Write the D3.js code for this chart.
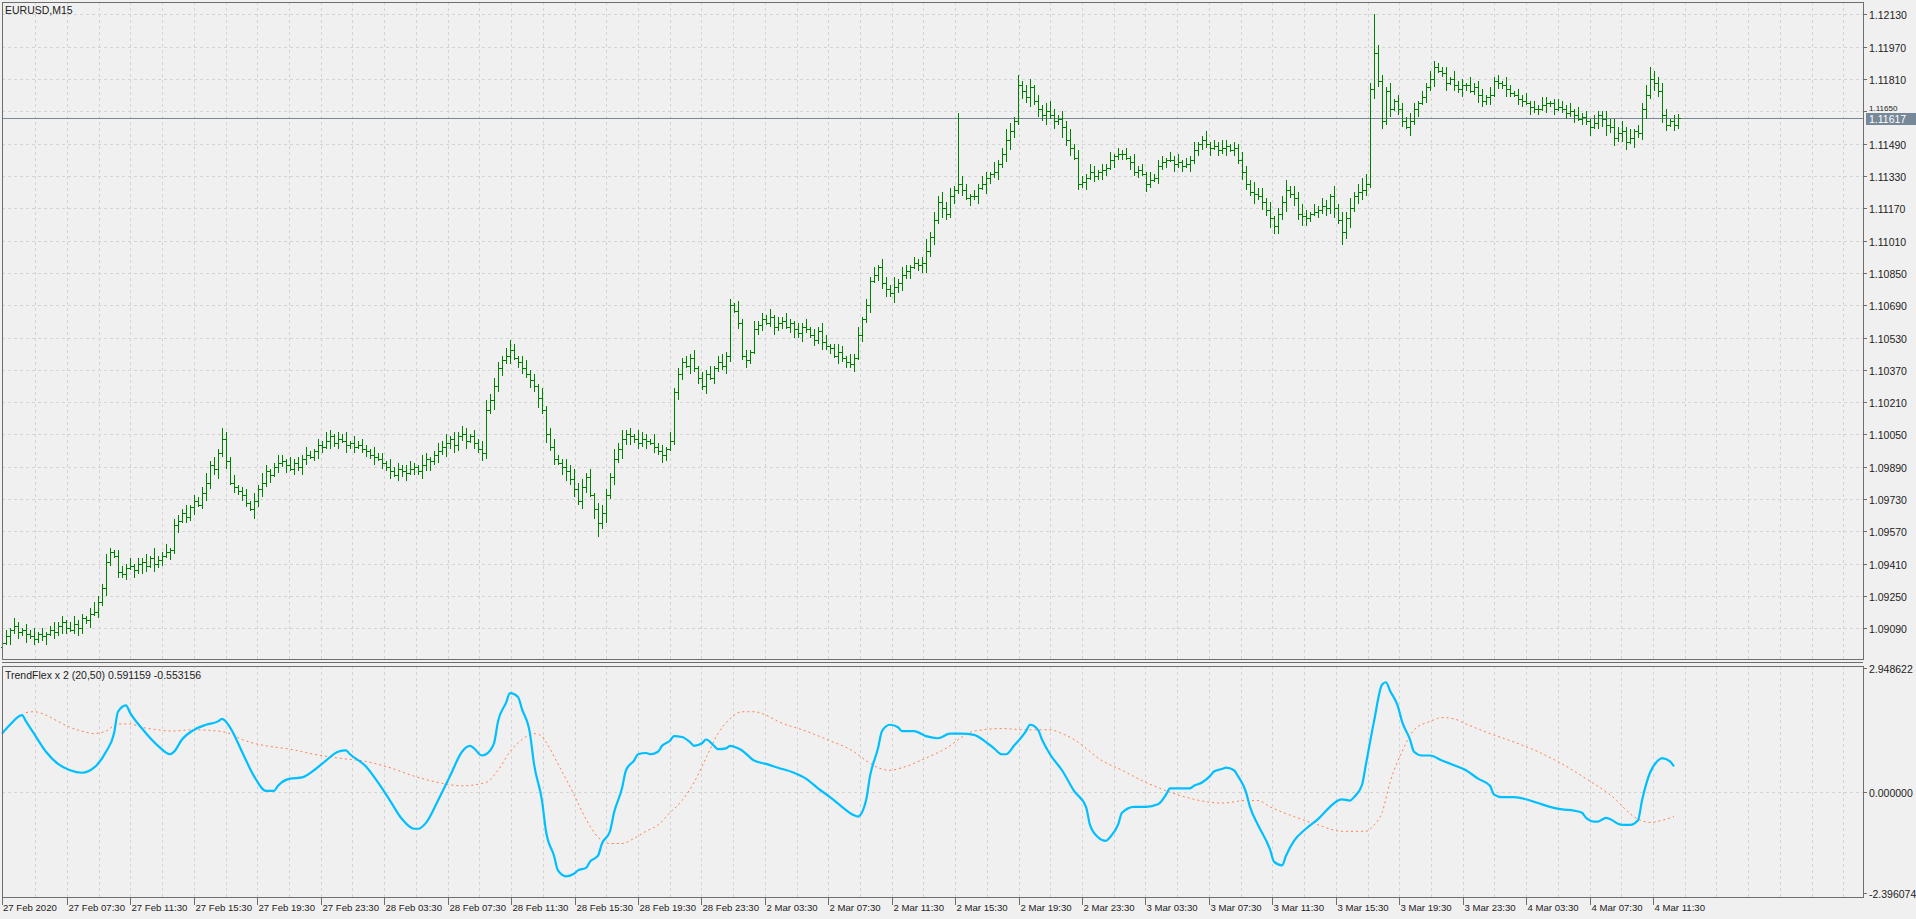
<!DOCTYPE html>
<html><head><meta charset="utf-8">
<script src="https://cdn.jsdelivr.net/npm/d3@7"></script>
<style>html,body{margin:0;padding:0;background:#f0f0f0;overflow:hidden}svg{display:block}</style>
</head><body><svg id="c" width="1916" height="919"></svg>
<script>
const symbolTitle = "EURUSD,M15";
const indTitle = "TrendFlex x 2 (20,50) 0.591159 -0.553156";
const priceTicks = [1.12130,1.11970,1.11810,1.11650,1.11490,1.11330,1.11170,1.11010,1.10850,1.10690,1.10530,1.10370,1.10210,1.10050,1.09890,1.09730,1.09570,1.09410,1.09250,1.09090];
const indTicks = [2.948622, 0.000000, -2.396074];
const lastPrice = 1.11617;
const firstLabel = "27 Feb 2020";
const timeLabels = ["27 Feb 07:30","27 Feb 11:30","27 Feb 15:30","27 Feb 19:30","27 Feb 23:30","28 Feb 03:30","28 Feb 07:30","28 Feb 11:30","28 Feb 15:30","28 Feb 19:30","28 Feb 23:30","2 Mar 03:30","2 Mar 07:30","2 Mar 11:30","2 Mar 15:30","2 Mar 19:30","2 Mar 23:30","3 Mar 03:30","3 Mar 07:30","3 Mar 11:30","3 Mar 15:30","3 Mar 19:30","3 Mar 23:30","4 Mar 03:30","4 Mar 07:30","4 Mar 11:30"];
const firstOpen = 1.0900;
const closes = [
1.0902,1.0905,1.0908,1.0910,1.0907,1.0908,1.0906,1.0905,1.0904,1.0906,
1.0905,1.0906,1.0908,1.0907,1.0910,1.0912,1.0909,1.0908,1.0911,1.0909,
1.0914,1.0913,1.0916,1.0917,1.0922,1.0929,1.0942,1.0947,1.0945,1.0937,
1.0936,1.0939,1.0940,1.0938,1.0941,1.0942,1.0940,1.0944,1.0941,1.0943,
1.0945,1.0947,1.0948,1.0960,1.0962,1.0966,1.0964,1.0969,1.0972,1.0970,
1.0976,1.0981,1.0990,1.0988,1.0996,1.1003,1.0992,1.0981,1.0979,1.0977,
1.0975,1.0971,1.0968,1.0972,1.0978,1.0981,1.0987,1.0985,1.0989,1.0991,
1.0992,1.0990,1.0988,1.0991,1.0989,1.0993,1.0995,1.0994,1.0997,1.1000,
1.0999,1.1002,1.1004,1.1001,1.1003,1.1002,1.1000,1.1001,1.0999,1.1000,
1.0998,1.0997,1.0995,1.0994,1.0993,1.0991,1.0989,1.0987,1.0985,1.0988,
1.0987,1.0986,1.0988,1.0989,1.0987,1.0990,1.0993,1.0992,1.0995,1.0997,
1.0999,1.1001,1.1003,1.1000,1.1004,1.1005,1.1002,1.1004,1.1001,1.0998,
1.0996,1.1017,1.1022,1.1029,1.1038,1.1042,1.1044,1.1047,1.1043,1.1041,
1.1038,1.1035,1.1032,1.1029,1.1023,1.1017,1.1005,1.0999,1.0993,1.0991,
1.0989,1.0987,1.0983,1.0978,1.0972,1.0979,1.0984,1.0975,1.0968,1.0961,
1.0966,1.0975,1.0984,1.0993,1.0998,1.1003,1.1005,1.1004,1.1003,1.1001,
1.1003,1.1002,1.1001,1.0999,1.0997,1.0995,1.0998,1.1002,1.1026,1.1035,
1.1041,1.1039,1.1043,1.1038,1.1033,1.1029,1.1035,1.1033,1.1038,1.1041,
1.1039,1.1044,1.1069,1.1066,1.1060,1.1044,1.1042,1.1046,1.1057,1.1059,
1.1062,1.1060,1.1063,1.1058,1.1060,1.1061,1.1058,1.1060,1.1057,1.1055,
1.1058,1.1057,1.1054,1.1052,1.1056,1.1051,1.1049,1.1048,1.1044,1.1046,
1.1043,1.1041,1.1040,1.1043,1.1054,1.1062,1.1069,1.1081,1.1084,1.1088,
1.1080,1.1077,1.1075,1.1078,1.1080,1.1084,1.1086,1.1088,1.1090,1.1089,
1.1090,1.1096,1.1103,1.1111,1.1120,1.1117,1.1114,1.1123,1.1126,1.1129,
1.1126,1.1122,1.1123,1.1123,1.1127,1.1129,1.1132,1.1134,1.1135,1.1139,
1.1144,1.1151,1.1155,1.1160,1.1178,1.1175,1.1172,1.1177,1.1170,1.1166,
1.1163,1.1165,1.1163,1.1160,1.1161,1.1157,1.1151,1.1147,1.1142,1.1129,
1.1130,1.1132,1.1135,1.1133,1.1135,1.1136,1.1137,1.1141,1.1143,1.1144,
1.1144,1.1142,1.1140,1.1135,1.1136,1.1134,1.1129,1.1131,1.1132,1.1138,
1.1140,1.1141,1.1141,1.1139,1.1140,1.1138,1.1139,1.1141,1.1146,1.1149,
1.1151,1.1149,1.1147,1.1148,1.1146,1.1147,1.1148,1.1146,1.1147,1.1141,
1.1135,1.1129,1.1125,1.1124,1.1123,1.1120,1.1116,1.1112,1.1108,1.1114,
1.1120,1.1126,1.1124,1.1122,1.1114,1.1113,1.1112,1.1114,1.1115,1.1116,
1.1118,1.1117,1.1123,1.1117,1.1111,1.1105,1.1112,1.1117,1.1123,1.1125,
1.1126,1.1129,1.1176,1.1194,1.1180,1.1160,1.1175,1.1166,1.1170,1.1166,
1.1160,1.1157,1.1160,1.1166,1.1169,1.1172,1.1177,1.1181,1.1187,1.1185,
1.1184,1.1179,1.1181,1.1178,1.1176,1.1178,1.1178,1.1175,1.1177,1.1173,
1.1170,1.1172,1.1173,1.1180,1.1179,1.1178,1.1176,1.1174,1.1173,1.1171,
1.1170,1.1169,1.1167,1.1166,1.1166,1.1168,1.1169,1.1169,1.1166,1.1167,
1.1166,1.1164,1.1165,1.1163,1.1161,1.1162,1.1160,1.1157,1.1159,1.1163,
1.1161,1.1158,1.1157,1.1152,1.1154,1.1155,1.1150,1.1152,1.1155,1.1154,
1.1166,1.1173,1.1181,1.1179,1.1175,1.1163,1.1158,1.1160,1.1158,1.11617];
// upper / lower wick length in pips beyond the body
const wickUp = ["2314213241","3124231342","2135324213","3241324152","2413324132","3524213241","2314253124","3142324213","2431324132","3214231423",
"2342153124","3413243132","4534324231","3423152342","2435342413","4325342314","3214231423","2324132413","4231523142","3241324213",
"2413243124","3142413241","4325243132","3624353425","4313243152","3542423413","2453243524","3243132413","2314231423","3142413241",
"2413243132","4325342413","3524353142","4315243524","6535432413","3243132432","2314231423","3142314213","2413243124","3241423142",
"2434352413","3524343132"];
const wickDn = ["3142324132","2413243124","3241324213","2314253142","3142413241","2433524132","3215342413","2413243124","3142314231","2324132413",
"3413243524","2534324132","4325342413","3243524231","4534243152","3524253423","2413243124","3142324132","2431324213","3124231342",
"4213242314","2324132413","3425342413","4534253242","3142415324","2453243524","3524253413","2413243142","3142314213","2314231423",
"3241324132","4325243524","3524354213","2435243524","4325342413","3142413241","2413243124","3241324213","3142314231","2324132413",
"4534243152","3524343132"];
const highOverride = [[239,1.1164],[343,1.1213],[254,1.1183],[127,1.1052],[55,1.1008],[412,1.1187]];
const lowOverride = [[149,1.0954],[335,1.1099],[318,1.1104],[406,1.1146]];
// TrendFlex lines: [bar index, value]
const trendFlex = [[0,1.39],[2,1.60],[5,1.83],[6,1.68],[8,1.39],[11,0.96],[14,0.67],[17,0.52],[20,0.46],[23,0.58],[26,0.96],[28,1.39],[29,1.91],[31,2.06],[32,1.89],[35,1.51],[39,1.10],[42,0.90],[43,0.96],[45,1.25],[48,1.48],[51,1.60],[54,1.68],[55,1.74],[57,1.54],[60,0.96],[63,0.38],[66,0.03],[68,0.03],[69,0.15],[72,0.32],[75,0.35],[78,0.52],[81,0.75],[84,0.96],[86,0.99],[87,0.90],[91,0.61],[94,0.23],[97,-0.20],[100,-0.64],[103,-0.87],[104,-0.87],[106,-0.73],[109,-0.20],[112,0.38],[115,0.96],[117,1.10],[118,1.04],[120,0.87],[121,0.90],[123,1.16],[124,1.68],[126,2.12],[127,2.35],[129,2.26],[130,1.97],[132,1.39],[133,0.67],[135,-0.20],[136,-0.93],[138,-1.51],[139,-1.86],[141,-2.00],[143,-1.94],[144,-1.86],[146,-1.80],[147,-1.65],[149,-1.51],[150,-1.22],[152,-0.93],[153,-0.49],[155,0.09],[156,0.52],[158,0.75],[159,0.90],[161,0.93],[162,0.90],[164,0.96],[165,1.10],[167,1.22],[168,1.33],[170,1.31],[172,1.19],[173,1.10],[175,1.16],[176,1.25],[178,1.10],[179,1.02],[181,1.04],[182,1.10],[184,1.04],[185,0.99],[188,0.75],[191,0.67],[194,0.58],[198,0.46],[201,0.32],[204,0.09],[207,-0.12],[210,-0.35],[213,-0.55],[214,-0.58],[216,-0.20],[217,0.38],[219,1.04],[220,1.45],[222,1.60],[224,1.54],[225,1.45],[228,1.45],[231,1.33],[234,1.28],[237,1.39],[240,1.39],[243,1.36],[246,1.19],[248,1.04],[250,0.90],[251,0.90],[253,1.10],[256,1.45],[257,1.60],[259,1.48],[260,1.25],[262,0.90],[265,0.52],[268,0.03],[271,-0.35],[272,-0.78],[274,-1.07],[276,-1.16],[277,-1.07],[279,-0.78],[280,-0.49],[283,-0.35],[286,-0.35],[289,-0.29],[291,-0.06],[292,0.09],[295,0.09],[297,0.09],[298,0.15],[300,0.23],[302,0.38],[303,0.49],[305,0.55],[306,0.58],[308,0.52],[309,0.38],[311,0.00],[312,-0.35],[314,-0.78],[317,-1.36],[318,-1.65],[320,-1.74],[321,-1.51],[323,-1.16],[326,-0.87],[329,-0.64],[332,-0.35],[334,-0.20],[335,-0.17],[337,-0.20],[338,-0.12],[340,0.17],[341,0.67],[343,1.68],[345,2.55],[346,2.61],[347,2.41],[349,2.03],[350,1.68],[352,1.25],[353,0.96],[355,0.87],[357,0.87],[360,0.75],[363,0.64],[366,0.52],[369,0.32],[372,0.15],[373,-0.06],[375,-0.12],[378,-0.12],[381,-0.17],[384,-0.26],[387,-0.35],[390,-0.41],[393,-0.44],[395,-0.49],[396,-0.61],[398,-0.70],[399,-0.70],[401,-0.61],[402,-0.64],[404,-0.75],[405,-0.78],[407,-0.78],[409,-0.67],[410,-0.20],[412,0.46],[414,0.75],[415,0.81],[417,0.73],[418,0.61]];
const trendFlexSlow = [[6,1.89],[8,1.91],[11,1.83],[14,1.68],[17,1.54],[20,1.45],[23,1.39],[26,1.45],[29,1.62],[32,1.62],[35,1.54],[39,1.48],[42,1.45],[48,1.48],[54,1.45],[57,1.39],[60,1.25],[63,1.16],[66,1.10],[72,1.02],[78,0.90],[84,0.81],[91,0.73],[97,0.58],[103,0.38],[109,0.23],[115,0.15],[121,0.23],[124,0.52],[127,0.96],[130,1.25],[133,1.39],[135,1.33],[136,1.19],[139,0.67],[143,-0.06],[146,-0.64],[149,-1.07],[152,-1.22],[155,-1.22],[158,-1.10],[161,-0.93],[164,-0.78],[167,-0.49],[170,-0.20],[173,0.23],[176,0.81],[179,1.39],[182,1.74],[185,1.91],[188,1.91],[191,1.83],[194,1.68],[201,1.45],[207,1.22],[213,0.96],[216,0.75],[219,0.58],[222,0.52],[225,0.58],[231,0.81],[237,1.10],[240,1.31],[243,1.45],[250,1.51],[256,1.48],[262,1.48],[265,1.39],[268,1.25],[271,1.04],[274,0.81],[280,0.52],[286,0.23],[292,0.00],[298,-0.17],[305,-0.26],[311,-0.20],[314,-0.20],[317,-0.35],[323,-0.58],[329,-0.78],[335,-0.93],[341,-0.93],[343,-0.78],[345,-0.49],[347,0.23],[350,0.96],[353,1.48],[357,1.68],[360,1.77],[363,1.74],[366,1.62],[372,1.39],[378,1.19],[384,0.96],[390,0.67],[396,0.32],[402,-0.06],[409,-0.64],[412,-0.72],[415,-0.67],[418,-0.58]];

const svg = d3.select("#c");
const L = 2, R = 1863, mainTop = 2, mainBot = 659, indTop = 666, indBot = 897;
const font = "'Liberation Sans', Arial, sans-serif";
const x = d3.scaleLinear().domain([0,1]).range([2,6]);
const y = d3.scaleLinear().domain([1.0909,1.1213]).range([628.4,14.3]);
const yi = d3.scaleLinear().domain([-2.396074,2.948622]).range([893,668]);
const tx = d3.scaleLinear().domain([0,timeLabels.length-1]).range([67,1653]);

const up = wickUp.join("").split("").map(Number);
const dn = wickDn.join("").split("").map(Number);
const hiO = new Map(highOverride), loO = new Map(lowOverride);
const bars = closes.map((c,i)=>{
  const o = i===0 ? firstOpen : closes[i-1];
  const h = hiO.has(i) ? hiO.get(i) : Math.max(o,c)+up[i]*0.0001;
  const l = loO.has(i) ? loO.get(i) : Math.min(o,c)-dn[i]*0.0001;
  return {i,o,h,l,c};
});

// grids
const gridC = "#d4d4d4";
const vg = d3.range(-2, 120).map(k=>k/2).filter(k=>tx(k)>L+2 && tx(k)<R);
const gGrid = svg.append("g");
[[mainTop,mainBot],[indTop,indBot]].forEach(([t,b])=>{
  gGrid.selectAll(null).data(vg).enter().append("line")
    .attr("x1",k=>Math.round(tx(k))+0.5).attr("x2",k=>Math.round(tx(k))+0.5).attr("y1",t).attr("y2",b)
    .attr("stroke",gridC).attr("stroke-dasharray","3,3");
});
gGrid.selectAll(null).data(priceTicks).enter().append("line")
  .attr("x1",L).attr("x2",R).attr("y1",d=>Math.round(y(d))+0.5).attr("y2",d=>Math.round(y(d))+0.5)
  .attr("stroke",gridC).attr("stroke-dasharray","3,3");
gGrid.append("line").attr("x1",L).attr("x2",R).attr("y1",Math.round(yi(0))+0.5).attr("y2",Math.round(yi(0))+0.5)
  .attr("stroke",gridC).attr("stroke-dasharray","3,3");

// price line
svg.append("line").attr("x1",L).attr("x2",R).attr("y1",Math.round(y(lastPrice))+0.5).attr("y2",Math.round(y(lastPrice))+0.5)
  .attr("stroke","#778899").attr("stroke-width",1.2);

// bars
const gB = svg.append("g").attr("stroke","#008000").attr("stroke-width",1.2).attr("shape-rendering","crispEdges");
bars.forEach(b=>{
  const xx = Math.round(x(b.i))+0.5;
  gB.append("line").attr("x1",xx).attr("x2",xx).attr("y1",y(b.h)).attr("y2",y(b.l));
  gB.append("line").attr("x1",xx-2).attr("x2",xx).attr("y1",Math.round(y(b.o))+0.5).attr("y2",Math.round(y(b.o))+0.5);
  gB.append("line").attr("x1",xx).attr("x2",xx+2).attr("y1",Math.round(y(b.c))+0.5).attr("y2",Math.round(y(b.c))+0.5);
});

// indicator lines
const line = d3.line().x(d=>x(d[0])).y(d=>yi(d[1])).curve(d3.curveMonotoneX);
svg.append("path").attr("d",line(trendFlexSlow)).attr("fill","none").attr("stroke","#ff7f50").attr("stroke-width",1).attr("stroke-dasharray","2,3");
svg.append("path").attr("d",line(trendFlex)).attr("fill","none").attr("stroke","#00bfff").attr("stroke-width",2.2);

// frames
svg.append("rect").attr("x",L+0.5).attr("y",mainTop+0.5).attr("width",R-L).attr("height",mainBot-mainTop).attr("fill","none").attr("stroke","#6e6e6e");
svg.append("rect").attr("x",L+0.5).attr("y",indTop+0.5).attr("width",R-L).attr("height",indBot-indTop).attr("fill","none").attr("stroke","#6e6e6e");
svg.append("line").attr("x1",L).attr("x2",R).attr("y1",mainBot+3.5).attr("y2",mainBot+3.5).attr("stroke","#6e6e6e");

// right axes
const tc = "#222";
const ga = svg.append("g").attr("font-family",font).attr("font-size","10.5px").attr("fill",tc);
priceTicks.forEach(p=>{
  const yy = Math.round(y(p))+0.5;
  ga.append("line").attr("x1",R).attr("x2",R+4).attr("y1",yy).attr("y2",yy).attr("stroke","#6e6e6e");
  if (Math.abs(y(p)-y(lastPrice)) > 9) ga.append("text").attr("x",R+6).attr("y",yy+4).text(p.toFixed(5));
  else ga.append("text").attr("x",R+6).attr("y",yy-1).attr("font-size","8px").text(p.toFixed(5));
});
const py = Math.round(y(lastPrice));
svg.append("rect").attr("x",R+3).attr("y",py-5).attr("width",50).attr("height",12).attr("fill","#778899");
svg.append("text").attr("x",R+6).attr("y",py+5).attr("font-family",font).attr("font-size","10.5px").attr("fill","#fff").text(lastPrice.toFixed(5));
indTicks.forEach(v=>{
  const yy = Math.round(yi(v))+0.5;
  ga.append("line").attr("x1",R).attr("x2",R+4).attr("y1",yy).attr("y2",yy).attr("stroke","#6e6e6e");
  ga.append("text").attr("x",R+6).attr("y",yy+4).text(v.toFixed(6));
});

// time axis
const gt = svg.append("g").attr("font-family",font).attr("font-size","9.6px").attr("fill",tc);
gt.append("line").attr("x1",2.5).attr("x2",2.5).attr("y1",indBot).attr("y2",indBot+8).attr("stroke","#6e6e6e");
gt.append("text").attr("x",3).attr("y",911).text(firstLabel);
timeLabels.forEach((t,k)=>{
  const xx = Math.round(tx(k))+0.5;
  gt.append("line").attr("x1",xx).attr("x2",xx).attr("y1",indBot).attr("y2",indBot+8).attr("stroke","#6e6e6e");
  gt.append("text").attr("x",xx+1).attr("y",911).text(t);
});

// titles
ga.append("text").attr("x",5).attr("y",14).text(symbolTitle);
ga.append("text").attr("x",5).attr("y",679).text(indTitle);
</script></body></html>
